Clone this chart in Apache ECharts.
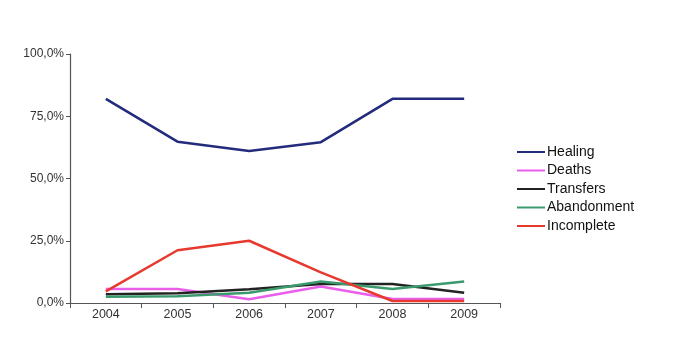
<!DOCTYPE html>
<html>
<head>
<meta charset="utf-8">
<script src="https://cdn.jsdelivr.net/npm/echarts@6/dist/echarts.min.js"></script>
<style>html,body{margin:0;padding:0;background:#fff}#c{width:675px;height:354px}</style>
</head>
<body>
<div id="c"></div>
<script>
const years = ['2004','2005','2006','2007','2008','2009'];
const healing = [82.0, 64.8, 61.0, 64.6, 82.0, 82.0];
const deaths = [5.6, 5.6, 1.5, 6.6, 1.6, 1.6];
const transfers = [3.5, 3.9, 5.5, 7.6, 7.6, 4.1];
const abandonment = [2.5, 2.7, 4.1, 8.6, 5.6, 8.6];
const incomplete = [4.7, 21.2, 25.0, 12.3, 0.8, 0.8];
const seriesNames = ['Healing','Deaths','Transfers','Abandonment','Incomplete'];
const yTicks = [0, 25, 50, 75, 100];

const colors = ['#232b7c', '#ea5fea', '#222222', '#3b9a6d', '#e8392f'];
const dataSets = [healing, deaths, transfers, abandonment, incomplete];

const chart = echarts.init(document.getElementById('c'), null, {renderer: 'canvas'});
chart.setOption({
  animation: false,
  backgroundColor: '#fff',
  grid: {left: 70, right: 175, top: 54, bottom: 51, containLabel: false},
  legend: {
    orient: 'vertical',
    left: 512,
    top: 140,
    itemGap: 4.5,
    itemWidth: 28,
    itemHeight: 14,
    icon: 'path://M0,6 L28,6 L28,8 L0,8 Z',
    textStyle: {fontFamily: 'Liberation Sans', fontSize: 14, color: '#111', padding: [0,0,0,-3]},
    data: seriesNames
  },
  xAxis: {
    type: 'category',
    data: years,
    boundaryGap: true,
    axisLine: {lineStyle: {color: '#555', width: 1.2}},
    axisTick: {show: true, length: 5, inside: false, lineStyle: {color: '#555'}},
    axisLabel: {fontFamily: 'Liberation Sans', fontSize: 12.5, color: '#333', margin: 5}
  },
  yAxis: {
    type: 'value',
    min: 0, max: 100, interval: 25,
    splitLine: {show: false},
    axisLine: {show: true, lineStyle: {color: '#555', width: 1.2}},
    axisTick: {show: true, length: 4, lineStyle: {color: '#555'}},
    axisLabel: {
      fontFamily: 'Liberation Sans', fontSize: 12, color: '#333', margin: 6,
      formatter: v => yTicks.includes(v) ? v.toFixed(1).replace('.', ',') + '%' : ''
    }
  },
  series: seriesNames.map((n, i) => ({
    name: n,
    type: 'line',
    data: dataSets[i],
    symbol: 'none',
    lineStyle: {color: colors[i], width: 2.5},
    itemStyle: {color: colors[i]},
    z: 2 + i
  }))
});
</script>
</body>
</html>
